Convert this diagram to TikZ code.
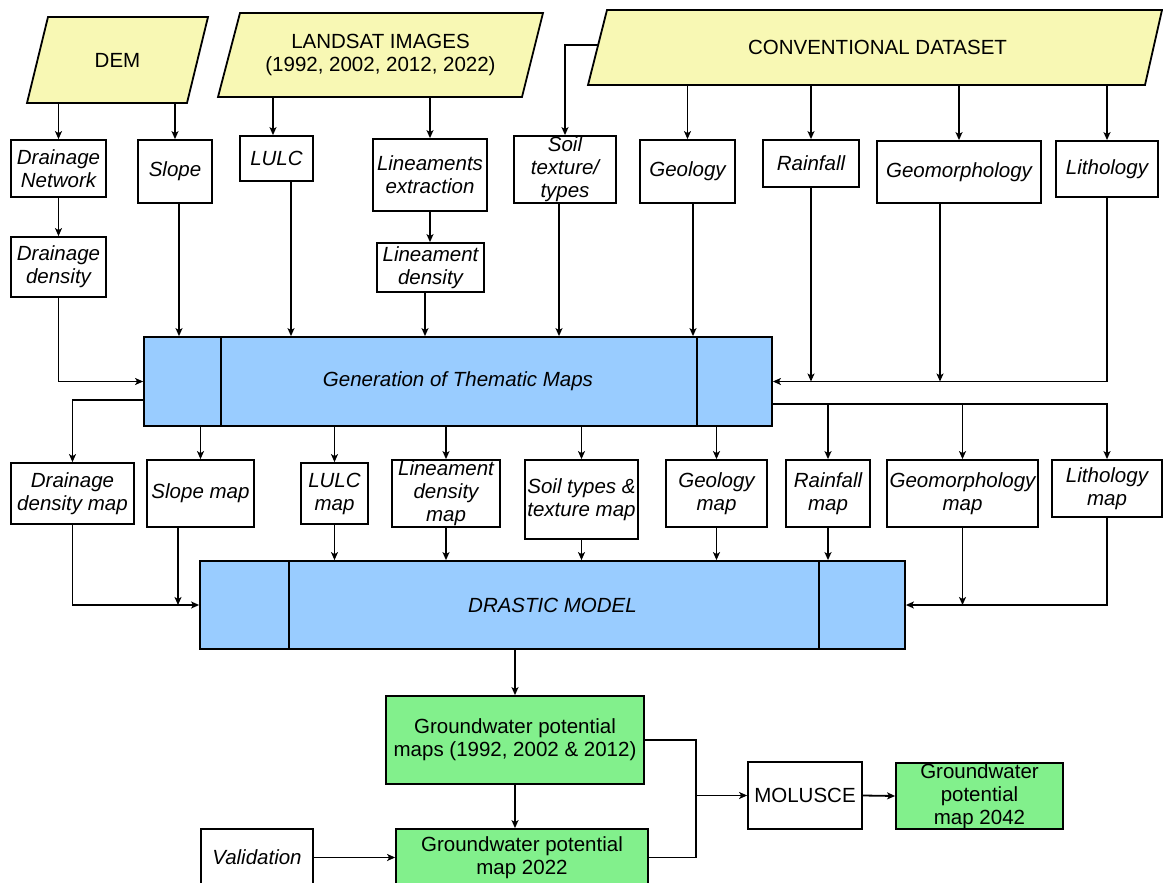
\documentclass[tikz,border=0pt]{standalone}
\usepackage{fontspec}
\setmainfont{Liberation Sans}
\usetikzlibrary{arrows.meta,calc}
\definecolor{pyellow}{RGB}{248,248,180}
\definecolor{pblue}{RGB}{153,204,255}
\definecolor{pgreen}{RGB}{130,240,140}
\begin{document}
\begin{tikzpicture}[x=1pt,y=-1pt,
 lw/.style={line width=1.8pt},
 arr/.style={line width=1.8pt,-{Stealth[length=8pt,width=7pt,inset=2pt]}},
 txt/.style={font=\fontsize{20.5}{23}\selectfont},
 box/.style={draw,line width=1.8pt,fill=white,inner sep=0pt,align=center,font=\fontsize{20.5}{23}\selectfont\itshape},
 rbox/.style={box,font=\fontsize{20.5}{23}\selectfont},
 gbox/.style={rbox,fill=pgreen},
 bbox/.style={box,fill=pblue},
 para/.style={draw,line width=1.8pt,fill=pyellow}]
\useasboundingbox (0,0) rectangle (1163,883);
\clip (0,0) rectangle (1163,883);
\fill[white] (0,0) rectangle (1163,883);

% input parallelograms
\path[para] (48,17) -- (208,17) -- (187,103) -- (27,103) -- cycle;
\node[txt,inner sep=0pt,minimum width=160pt,minimum height=86pt] (dem) at (117.5,60) {DEM};
\path[para] (240,13) -- (543,13) -- (522,97) -- (218,97) -- cycle;
\node[txt,align=center,inner sep=0pt,minimum width=300pt,minimum height=84pt] (land) at (380.5,55) {LANDSAT IMAGES\\(1992, 2002, 2012, 2022)};
\path[para] (607,10) -- (1162,10) -- (1145,85) -- (588,85) -- cycle;
\node[txt,inner sep=0pt,minimum width=555pt,minimum height=75pt] (conv) at (877.5,47.5) {CONVENTIONAL DATASET};
\coordinate (convL) at (598,45);

% first row
\node[box,minimum width=95pt,minimum height=57pt] (dn) at (58.5,168.5) {Drainage\\Network};
\node[box,minimum width=74pt,minimum height=63pt] (sl) at (175,171.5) {Slope};
\node[box,minimum width=73pt,minimum height=45pt] (lu) at (276.5,158.5) {LULC};
\node[box,minimum width=114pt,minimum height=72pt] (le) at (430,175) {Lineaments\\extraction};
\node[box,minimum width=102pt,minimum height=67pt] (so) at (565,169.5) {Soil\\texture/\\types};
\node[box,minimum width=95pt,minimum height=63pt] (ge) at (687.5,171.5) {Geology};
\node[box,minimum width=96pt,minimum height=47pt] (ra) at (811,163.5) {Rainfall};
\node[box,minimum width=164pt,minimum height=62pt] (gm) at (959,172) {Geomorphology};
\node[box,minimum width=102pt,minimum height=56pt] (li) at (1107,169) {Lithology};

% second row
\node[box,minimum width=95pt,minimum height=60pt] (dd) at (58.5,267) {Drainage\\density};
\node[box,minimum width=107pt,minimum height=49pt] (ld) at (430.5,267.5) {Lineament\\density};

% thematic maps
\node[bbox,minimum width=628pt,minimum height=89pt] (gen) at (458,381.5) {Generation of Thematic Maps};
\draw[lw] ($(gen.north west)+(78,0)$) -- ($(gen.south west)+(78,0)$);
\draw[lw] ($(gen.north east)+(-76,0)$) -- ($(gen.south east)+(-76,0)$);

% map row
\node[box,minimum width=123pt,minimum height=61pt] (ddm) at (72.5,493.5) {Drainage\\density map};
\node[box,minimum width=107pt,minimum height=67pt] (slm) at (200.5,493.5) {Slope map};
\node[box,minimum width=67pt,minimum height=61pt] (lum) at (334.5,493.5) {LULC\\map};
\node[box,minimum width=108pt,minimum height=67pt] (ldm) at (446,493.5) {Lineament\\density\\map};
\node[box,minimum width=113pt,minimum height=79pt] (som) at (581.5,499.5) {Soil types \&\\texture map};
\node[box,minimum width=101pt,minimum height=67pt] (gem) at (716.5,493.5) {Geology\\map};
\node[box,minimum width=84pt,minimum height=67pt] (ram) at (828,493.5) {Rainfall\\map};
\node[box,minimum width=151pt,minimum height=67pt] (gmm) at (962.5,493.5) {Geomorphology\\map};
\node[box,minimum width=110pt,minimum height=57pt] (lim) at (1107,488.5) {Lithology\\map};

% drastic
\node[bbox,minimum width=705pt,minimum height=88pt] (dr) at (552.5,605) {DRASTIC MODEL};
\draw[lw] ($(dr.north west)+(89.5,0)$) -- ($(dr.south west)+(89.5,0)$);
\draw[lw] ($(dr.north east)+(-87,0)$) -- ($(dr.south east)+(-87,0)$);

% outputs
\node[gbox,minimum width=258pt,minimum height=88pt] (gw1) at (515,740) {Groundwater potential\\maps (1992, 2002 \& 2012)};
\node[gbox,minimum width=252pt,minimum height=57pt] (gw2) at (522,857.5) {Groundwater potential\\map 2022};
\node[box,minimum width=112pt,minimum height=57pt] (val) at (257,857.5) {Validation};
\node[rbox,minimum width=114pt,minimum height=67pt] (mol) at (805,795.5) {MOLUSCE};
\node[gbox,minimum width=167pt,minimum height=66pt] (g42) at (979.5,796) {Groundwater\\potential\\map 2042};

% helper coordinates
\coordinate (lui) at ($(lu.north)+(-3.5,0)$);
\coordinate (slo) at ($(sl.south)+(4,0)$);
\coordinate (luo) at ($(lu.south)+(14.5,0)$);
\coordinate (ldo) at ($(ld.south)+(-5.5,0)$);
\coordinate (soo) at ($(so.south)+(-6,0)$);
\coordinate (geo) at ($(ge.south)+(5.5,0)$);
\coordinate (gmo) at ($(gm.south)+(-19,0)$);
\coordinate (genL) at ($(gen.west)+(0,18.5)$);
\coordinate (genR) at ($(gen.east)+(0,22.5)$);
\coordinate (slmo) at ($(slm.south)+(-22.5,0)$);
\coordinate (j) at ($(mol.west)+(-51,0)$);

% inputs to first row
\draw[arr] (dem.south -| dn.north) -- (dn.north);
\draw[arr] (dem.south -| sl.north) -- (sl.north);
\draw[arr] (land.south -| lui) -- (lui);
\draw[arr] (land.south -| le.north) -- (le.north);
\draw[arr] (convL) -| (so.north);
\draw[arr] (conv.south -| ge.north) -- (ge.north);
\draw[arr] (conv.south -| ra.north) -- (ra.north);
\draw[arr] (conv.south -| gm.north) -- (gm.north);
\draw[arr] (conv.south -| li.north) -- (li.north);
\draw[arr] (dn.south) -- (dd.north);
\draw[arr] (le.south) -- (le.south |- ld.north);

% into thematic maps
\draw[arr] (dd.south) |- (gen.west);
\draw[arr] (slo) -- (slo |- gen.north);
\draw[arr] (luo) -- (luo |- gen.north);
\draw[arr] (ldo) -- (ldo |- gen.north);
\draw[arr] (soo) -- (soo |- gen.north);
\draw[arr] (geo) -- (geo |- gen.north);
\draw[arr] (ra.south) -- (ra.south |- gen.east);
\draw[arr] (gmo) -- (gmo |- gen.east);
\draw[arr] (li.south) |- (gen.east);

% out of thematic maps
\draw[arr] (genL) -| (ddm.north);
\draw[arr] (gen.south -| slm.north) -- (slm.north);
\draw[arr] (gen.south -| lum.north) -- (lum.north);
\draw[arr] (gen.south -| ldm.north) -- (ldm.north);
\draw[arr] (gen.south -| som.north) -- (som.north);
\draw[arr] (gen.south -| gem.north) -- (gem.north);
\draw[arr] (genR) -| (lim.north);
\draw[arr] (genR -| ram.north) -- (ram.north);
\draw[arr] (genR -| gmm.north) -- (gmm.north);

% into drastic
\draw[arr] (ddm.south) |- (dr.west);
\draw[arr] (slmo) -- (slmo |- dr.west);
\draw[arr] (lum.south) -- (lum.south |- dr.north);
\draw[arr] (ldm.south) -- (ldm.south |- dr.north);
\draw[arr] (som.south) -- (som.south |- dr.north);
\draw[arr] (gem.south) -- (gem.south |- dr.north);
\draw[arr] (ram.south) -- (ram.south |- dr.north);
\draw[arr] (gmm.south) -- (gmm.south |- dr.east);
\draw[arr] (lim.south) |- (dr.east);

% bottom
\draw[arr] (gw1.north |- dr.south) -- (gw1.north);
\draw[arr] (gw1.south) -- (gw1.south |- gw2.north);
\draw[arr] (val.east) -- (gw2.west);
\draw[lw] (gw1.east) -| (j);
\draw[lw] (gw2.east) -| (j);
\draw[arr] (j) -- (mol.west);
\draw[arr] (mol.east) -- (g42.west);
\end{tikzpicture}
\end{document}
